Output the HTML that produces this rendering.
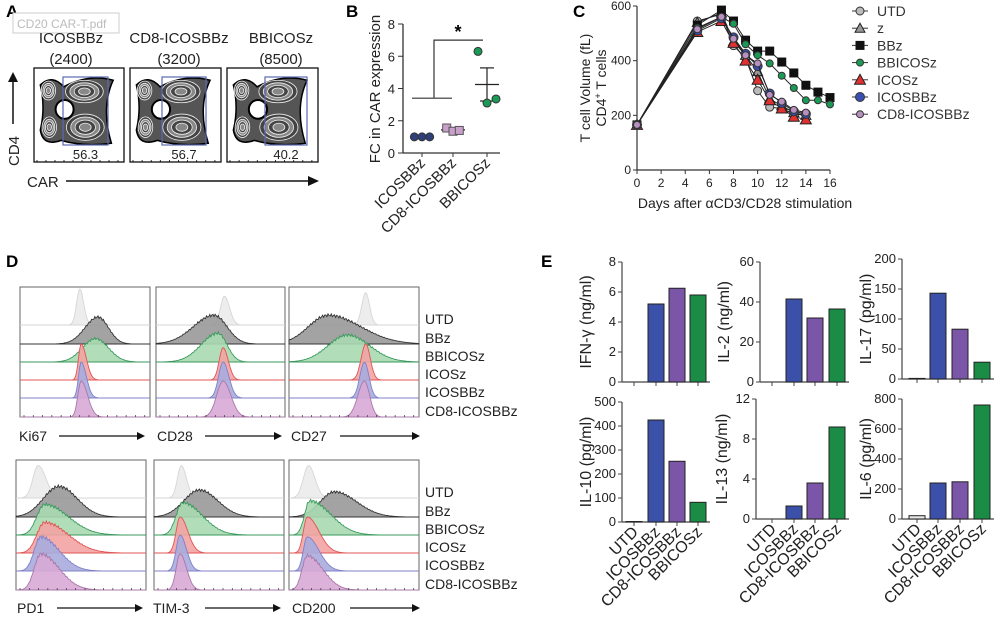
<!DOCTYPE html>
<html><head><meta charset="utf-8">
<style>
html,body{margin:0;padding:0;background:#fff}
svg{display:block;font-family:"Liberation Sans",Arial,sans-serif}
</style></head>
<body>
<svg id="fig" width="1001" height="619" viewBox="0 0 1001 619" xmlns="http://www.w3.org/2000/svg">
<g id="A">
 <text x="6" y="17" font-size="17" font-weight="bold">A</text>
 <rect x="13" y="13" width="106" height="20" fill="#fff" stroke="#ccc"/>
 <text x="17" y="28" font-size="12" fill="#bbb">CD20 CAR-T.pdf</text>
 <text x="71" y="43" font-size="15" text-anchor="middle" fill="#222">ICOSBBz</text>
 <text x="71" y="64" font-size="15" text-anchor="middle" fill="#222">(2400)</text>
 <text x="179" y="43" font-size="15" text-anchor="middle" fill="#222">CD8-ICOSBBz</text>
 <text x="179" y="64" font-size="15" text-anchor="middle" fill="#222">(3200)</text>
 <text x="281" y="43" font-size="15" text-anchor="middle" fill="#222">BBICOSz</text>
 <text x="281" y="64" font-size="15" text-anchor="middle" fill="#222">(8500)</text>
 <text transform="translate(19,166) rotate(-90)" font-size="15" fill="#222">CD4</text>
 <line x1="13" y1="124" x2="13" y2="80" stroke="#111" stroke-width="1.5"/>
 <path d="M8,82 L13,72 L18,82 Z" fill="#111"/>
 <text x="27" y="187" font-size="15" fill="#222">CAR</text>
 <line x1="66" y1="181" x2="310" y2="181" stroke="#111" stroke-width="1.5"/>
 <path d="M308,176 L319,181 L308,186 Z" fill="#111"/>
</g>
<g id="B">
 <text x="346" y="17" font-size="17" font-weight="bold">B</text>
</g>
<g id="C">
 <text x="573" y="17" font-size="17" font-weight="bold">C</text>
</g>
<g id="D">
 <text x="6" y="267" font-size="17" font-weight="bold">D</text>
</g>
<g id="E">
 <text x="541" y="267" font-size="17" font-weight="bold">E</text>
</g>
</svg>
<script>
// ---------- data ----------
// Panel A
const aPercents = ["56.3","56.7","40.2"];
// Panel B
const bCategories = ["ICOSBBz","CD8-ICOSBBz","BBICOSz"];
const bIcosbbz = [1.0,1.0,1.0];
const bCd8 = [1.55,1.35,1.4];
const bBbicosz = [6.3,3.1,3.35];
const bYTicks = [0,2,4,6,8];
// Panel C
const cDaysShort = [0,5,7,8,9,10,11,12,13,14];
const cDaysLong = [0,5,7,8,9,10,11,12,13,14,15,16];
const cUTD = [165,545,570,455,410,290,230,225,205,200];
const cZ = [165,540,575,470,420,360,260,235,210,200];
const cBBz = [165,530,585,545,475,435,435,395,355,310,285,265];
const cBBICOSz = [165,520,560,535,460,420,390,345,300,255,255,240];
const cICOSz = [165,505,545,465,400,330,255,225,195,185];
const cICOSBBz = [165,510,555,485,425,380,280,245,215,205];
const cCD8 = [165,515,560,480,420,390,275,250,220,210];
const cXTicks = [0,2,4,6,8,10,12,14,16];
const cYTicks = [0,200,400,600];
// Panel D (histogram peak centre, left/right spread as fraction of box, relative height)
const dRows = ["UTD","BBz","BBICOSz","ICOSz","ICOSBBz","CD8-ICOSBBz"];
const dKi67 = [[0.46,0.025,0.03,1.0],[0.60,0.10,0.08,0.75],[0.58,0.10,0.10,0.65],[0.47,0.02,0.04,1.0],[0.47,0.02,0.04,1.0],[0.47,0.025,0.05,1.0]];
const dCD28 = [[0.53,0.03,0.04,0.8],[0.45,0.16,0.10,0.8],[0.48,0.13,0.07,0.8],[0.52,0.03,0.04,0.9],[0.52,0.035,0.045,1.0],[0.52,0.05,0.06,1.0]];
const dCD27 = [[0.59,0.03,0.03,0.9],[0.30,0.15,0.25,0.8],[0.45,0.15,0.17,0.75],[0.59,0.035,0.035,1.0],[0.58,0.035,0.035,1.0],[0.58,0.05,0.04,1.0]];
const dPD1 = [[0.17,0.04,0.06,0.9],[0.33,0.12,0.14,0.85],[0.22,0.06,0.18,0.85],[0.22,0.06,0.18,0.85],[0.19,0.05,0.14,0.95],[0.19,0.05,0.14,1.0]];
const dTIM3 = [[0.21,0.03,0.04,0.9],[0.35,0.12,0.14,0.75],[0.22,0.05,0.15,0.9],[0.20,0.03,0.06,1.0],[0.20,0.03,0.05,1.0],[0.20,0.03,0.05,1.0]];
const dCD200 = [[0.15,0.04,0.05,0.9],[0.35,0.11,0.17,0.7],[0.16,0.04,0.16,0.95],[0.14,0.03,0.09,1.0],[0.14,0.03,0.09,0.95],[0.14,0.04,0.12,0.95]];
// Panel E
const eCategories = ["UTD","ICOSBBz","CD8-ICOSBBz","BBICOSz"];
const eIFNg = [0,5.2,6.25,5.8];
const eIL2 = [0,41.5,32,36.5];
const eIL17 = [1,143,83,28];
const eIL10 = [2,425,253,82];
const eIL13 = [0,1.3,3.6,9.2];
const eIL6 = [22,240,248,760];
const eTicksIFNg=[0,2,4,6,8], eTicksIL2=[0,20,40,60], eTicksIL17=[0,50,100,150,200];
const eTicksIL10=[0,100,200,300,400,500], eTicksIL13=[0,4,8,12], eTicksIL6=[0,200,400,600,800];

// ---------- helpers ----------
const NS="http://www.w3.org/2000/svg";
function mk(parent,tag,attrs,text){const e=document.createElementNS(NS,tag);for(const k in attrs)e.setAttribute(k,attrs[k]);if(text!==undefined)e.textContent=text;parent.appendChild(e);return e;}
function lin(d0,d1,r0,r1){return v=>r0+(v-d0)/(d1-d0)*(r1-r0);}

// ---------- Panel A contour plots ----------
const gA=document.getElementById('A');
const aBoxes=[[34,124],[130,221],[227,318]];
const aGates=[[63,108],[162,206],[265,307]];
aBoxes.forEach((b,i)=>{
 const g=mk(gA,'g',{});
 
 
 const w=b[1]-b[0], x0=b[0], y0=68, h=94;
 mk(g,'rect',{x:x0,y:y0,width:w,height:h,fill:'#fff',stroke:'#111','stroke-width':1.3});
 const blobs=[[0.16,0.24,0.08,0.1],[0.17,0.63,0.08,0.11],[0.56,0.25,0.21,0.12],[0.57,0.63,0.21,0.14]];
 mk(g,'path',{d:`M${x0+w*0.07},${y0+h*0.18} Q${x0+w*0.2},${y0+h*0.06} ${x0+w*0.33},${y0+h*0.2} Q${x0+w*0.6},${y0+h*0.06} ${x0+w*0.88},${y0+h*0.13} Q${x0+w*0.74},${y0+h*0.42} ${x0+w*0.86},${y0+h*0.8} Q${x0+w*0.55},${y0+h*0.84} ${x0+w*0.3},${y0+h*0.77} Q${x0+w*0.1},${y0+h*0.84} ${x0+w*0.07},${y0+h*0.66} Q${x0+w*0.13},${y0+h*0.42} ${x0+w*0.07},${y0+h*0.18} Z`,fill:'#555',stroke:'#000','stroke-width':1.5});
 mk(g,'ellipse',{cx:x0+w*0.34,cy:y0+h*0.44,rx:w*0.1,ry:h*0.1,fill:'#fff',stroke:'#000','stroke-width':2});
 blobs.forEach(bl=>{
  for(let k=0;k<4;k++){const s=1-k*0.23;
   mk(g,'ellipse',{cx:x0+w*bl[0],cy:y0+h*bl[1],rx:w*bl[2]*s,ry:h*bl[3]*s,fill:k%2?'#888':'#444',stroke:'#f0f0f0','stroke-width':0.8});}
 });
 for(let t=0;t<10;t++){mk(g,'line',{x1:x0+3+t*w/10,y1:y0+h,x2:x0+3+t*w/10,y2:y0+h-2,stroke:'#000','stroke-width':0.8});}
 const gate=mk(g,'rect',{x:aGates[i][0],y:77,width:aGates[i][1]-aGates[i][0],height:68,fill:'none',stroke:'#5a6ab0','stroke-width':1.2});
 
 
 const t=mk(g,'text',{x:(aGates[i][0]+aGates[i][1])/2,y:159,'font-size':13,'text-anchor':'middle',fill:'#222'},aPercents[i]);
 
 
});

// ---------- Panel B ----------
const gB=document.getElementById('B');
const bY=lin(0,8,153,24);
const bX=[422,453,487];
mk(gB,'line',{x1:403,y1:24,x2:403,y2:153,stroke:'#333','stroke-width':1.3});
mk(gB,'line',{x1:403,y1:153,x2:500,y2:153,stroke:'#333','stroke-width':1.3});
bYTicks.forEach(v=>{
 mk(gB,'line',{x1:398,y1:bY(v),x2:403,y2:bY(v),stroke:'#333'});
 const t=mk(gB,'text',{x:395,y:bY(v)+5,'font-size':13,'text-anchor':'end',fill:'#222'},String(v));
 
 
});
const bt=mk(gB,'text',{transform:'translate(380,89) rotate(-90)','font-size':15,'text-anchor':'middle',fill:'#222'},'FC in CAR expression');


bCategories.forEach((c,i)=>{
 mk(gB,'line',{x1:bX[i],y1:153,x2:bX[i],y2:157,stroke:'#333'});
 const t=mk(gB,'text',{transform:`translate(${bX[i]+4},${164}) rotate(-45)`,'font-size':15,'text-anchor':'end',fill:'#222'},c);
 
 
});
function bGroup(vals,i,color,shape){
 const off=[-9,0,9];
 const mean=vals.reduce((a,b)=>a+b,0)/vals.length;
 const sd=Math.sqrt(vals.reduce((a,b)=>a+(b-mean)*(b-mean),0)/(vals.length-1));
 const sem=sd/Math.sqrt(vals.length);
 mk(gB,'line',{x1:bX[i]-12,y1:bY(mean),x2:bX[i]+12,y2:bY(mean),stroke:'#222','stroke-width':1.2});
 mk(gB,'line',{x1:bX[i],y1:bY(mean-sem),x2:bX[i],y2:bY(mean+sem),stroke:'#222','stroke-width':1.2});
 mk(gB,'line',{x1:bX[i]-7,y1:bY(mean+sem),x2:bX[i]+7,y2:bY(mean+sem),stroke:'#222','stroke-width':1.2});
 mk(gB,'line',{x1:bX[i]-7,y1:bY(mean-sem),x2:bX[i]+7,y2:bY(mean-sem),stroke:'#222','stroke-width':1.2});
 vals.forEach((v,k)=>{
  let e;
  if(shape==='sq') e=mk(gB,'rect',{x:bX[i]+off[k]*0.7-4,y:bY(v)-4,width:8,height:8,fill:color,stroke:'#555'});
  else e=mk(gB,'circle',{cx:bX[i]+off[k]*(shape==='c2'?1:0.85),cy:bY(v),r:4,fill:color,stroke:'#333'});
  
  
 });
}
bGroup(bIcosbbz,0,'#2e3f7a','c');
bGroup(bCd8,1,'#c9a0c9','sq');
bGroup(bBbicosz,2,'#1a9a55','c2');
mk(gB,'path',{d:`M412,${bY(3.4)} L452,${bY(3.4)} M434,${bY(3.4)} L434,${bY(7.0)} L483,${bY(7.0)}`,fill:'none',stroke:'#333','stroke-width':1.2});
const star=mk(gB,'text',{x:458,y:38,'font-size':18,'font-weight':'bold','text-anchor':'middle'},'*');



// ---------- Panel C ----------
const gC=document.getElementById('C');
const cX=lin(0,16,637,830), cY=lin(0,600,170,6);
mk(gC,'line',{x1:637,y1:6,x2:637,y2:170,stroke:'#333','stroke-width':1.2});
mk(gC,'line',{x1:637,y1:170,x2:830,y2:170,stroke:'#333','stroke-width':1.2});
cYTicks.forEach(v=>{mk(gC,'line',{x1:633,y1:cY(v),x2:637,y2:cY(v),stroke:'#333'});
 const t=mk(gC,'text',{x:631,y:cY(v)+4,'font-size':12,'text-anchor':'end',fill:'#222'},String(v));
 });
cXTicks.forEach(v=>{mk(gC,'line',{x1:cX(v),y1:170,x2:cX(v),y2:174,stroke:'#333'});
 const t=mk(gC,'text',{x:cX(v),y:187,'font-size':12,'text-anchor':'middle',fill:'#222'},String(v));
 });
let ct=mk(gC,'text',{x:745,y:208,'font-size':14,'text-anchor':'middle',fill:'#222'},'Days after αCD3/CD28 stimulation');

ct=mk(gC,'text',{transform:'translate(590,88) rotate(-90)','font-size':14,'text-anchor':'middle',fill:'#222'},'T cell Volume (fL)');

ct=mk(gC,'text',{transform:'translate(606,88) rotate(-90)','font-size':14,'text-anchor':'middle',fill:'#222'});

ct.innerHTML='CD4<tspan dy="-5" font-size="9">+</tspan><tspan dy="5"> T cells</tspan>';
const cSeries=[
 ['UTD',cDaysShort,cUTD,'#bbb','c',4],['z',cDaysShort,cZ,'#999','t',4],['BBz',cDaysLong,cBBz,'#111','s',4],
 ['BBICOSz',cDaysLong,cBBICOSz,'#1a9a55','c',3.5],['ICOSz',cDaysShort,cICOSz,'#e03030','t',4.5],
 ['ICOSBBz',cDaysShort,cICOSBBz,'#3a50b0','c',4.5],['CD8-ICOSBBz',cDaysShort,cCD8,'#b890c0','c',3.5]];
function marker(g,x,y,col,shape,r){
 if(shape==='s')return mk(g,'rect',{x:x-r,y:y-r,width:2*r,height:2*r,fill:col,stroke:'#111'});
 if(shape==='t')return mk(g,'path',{d:`M${x},${y-r-1} L${x+r+1},${y+r} L${x-r-1},${y+r} Z`,fill:col,stroke:'#222'});
 return mk(g,'circle',{cx:x,cy:y,r:r,fill:col,stroke:'#333'});
}
cSeries.forEach((s,si)=>{
 const g=mk(gC,'g',{});
 
 
 mk(g,'polyline',{points:s[1].map((d,k)=>cX(d)+','+cY(s[2][k])).join(' '),fill:'none',stroke:'#222','stroke-width':1});
 s[1].forEach((d,k)=>{const m=marker(g,cX(d),cY(s[2][k]),s[3],s[4],s[5]);
  });
 const ly=11+si*17.2;
 const lg=mk(gC,'g',{});
 
 
 mk(lg,'line',{x1:852,y1:ly,x2:868,y2:ly,stroke:'#333'});
 marker(lg,860,ly,s[3],s[4],s[5]);
 mk(lg,'text',{x:877,y:ly+5,'font-size':14,fill:'#333'},s[0]);
});

// ---------- Panel D ----------
const gD=document.getElementById('D');
const dFill=['#ebebeb','#999','#a9d9b0','#f3a3a3','#a8acde','#d8a8d6'];
const dStroke=['#d6d6d6','#333','#3a9a5e','#e05555','#8080c8','#a878a8'];
function histPanel(x0,x1,bases,data,name,lab,labX,arrowX0,arrowX1,labY){
 const g=mk(gD,'g',{});
 
 
 const w=x1-x0, top=bases[0]-38, bot=bases[5];
 mk(g,'rect',{x:x0,y:top,width:w,height:bot-top,fill:'#fff',stroke:'#666','stroke-width':1});
 data.forEach((p,r)=>{
  const base=bases[r], amp=36*p[3];
  let pts=[];
  for(let k=0;k<=120;k++){const f=k/120;const sg=f<p[0]?p[1]:p[2];
   const v=Math.exp(-0.5*Math.pow((f-p[0])/sg,2));
   const jag=(p[1]+p[2]>0.15)?(1+0.05*Math.sin(k*2.3)):1;
   pts.push((x0+f*w).toFixed(1)+','+(base-amp*v*jag).toFixed(1));}
  if(r<5) mk(g,'line',{x1:x0,y1:base,x2:x1,y2:base,stroke:dStroke[r],'stroke-width':0.8});
  const h=mk(g,'path',{d:'M'+x0+','+base+' L'+pts.join(' L')+' L'+x1+','+base+' Z',fill:dFill[r],stroke:dStroke[r],'stroke-width':0.9,'fill-opacity':0.9});
  
  
 });
 for(let t=0;t<14;t++)mk(g,'line',{x1:x0+4+t*w/14,y1:bot,x2:x0+4+t*w/14,y2:bot-2,stroke:'#333','stroke-width':0.7});
 const t=mk(gD,'text',{x:labX,y:labY,'font-size':14,fill:'#222'},lab);
 
 mk(gD,'line',{x1:arrowX0,y1:labY-5,x2:arrowX1-6,y2:labY-5,stroke:'#111','stroke-width':1.2});
 mk(gD,'path',{d:`M${arrowX1-8},${labY-9} L${arrowX1},${labY-5} L${arrowX1-8},${labY-1} Z`,fill:'#111'});
}
const topBases=[325,344,362,380,398,417], botBases=[498,517,535,553,571,590];
histPanel(20,150,topBases,dKi67,'ki67','Ki67',19,59,145,441);
histPanel(156,285,topBases,dCD28,'cd28','CD28',157,205,282,441);
histPanel(289,419,topBases,dCD27,'cd27','CD27',291,340,420,441);
histPanel(16,146,botBases,dPD1,'pd1','PD1',17,57,143,613);
histPanel(154,284,botBases,dTIM3,'tim3','TIM-3',153,205,281,613);
histPanel(289,419,botBases,dCD200,'cd200','CD200',292,350,420,613);
[[topBases,0],[botBases,1]].forEach(([bs,j])=>{
 dRows.forEach((r,i)=>{const t=mk(gD,'text',{x:425,y:bs[i]-1,'font-size':14,fill:'#222'},r);
  });
});

// ---------- Panel E ----------
const gE=document.getElementById('E');
const eColors=['#e6e6e6','#3b50a8','#7b55a8','#1a8c45'];
function barChart(axX,catX,y0,yTop,vals,ticks,title,titleX,name,showLabels){
 const g=mk(gE,'g',{});
 
 
 const ys=lin(0,ticks[ticks.length-1],y0,yTop);
 mk(g,'line',{x1:axX,y1:yTop,x2:axX,y2:y0,stroke:'#444','stroke-width':1.2});
 mk(g,'line',{x1:axX,y1:y0,x2:catX[3]+12,y2:y0,stroke:'#444','stroke-width':1.2});
 ticks.forEach(v=>{mk(g,'line',{x1:axX-4,y1:ys(v),x2:axX,y2:ys(v),stroke:'#444'});
  const t=mk(g,'text',{x:axX-6,y:ys(v)+4,'font-size':13,'text-anchor':'end',fill:'#222'},String(v));
  });
 vals.forEach((v,i)=>{
  mk(g,'line',{x1:catX[i],y1:y0,x2:catX[i],y2:y0+4,stroke:'#444'});
  const b=mk(g,'rect',{x:catX[i]-8,y:ys(v),width:16,height:y0-ys(v),fill:eColors[i],stroke:'#222','stroke-width':1});
  
  
  if(showLabels){const t=mk(g,'text',{transform:`translate(${catX[i]+5},${y0+11}) rotate(-45)`,'font-size':16,'text-anchor':'end',fill:'#222'},eCategories[i]);
   }
 });
 const t=mk(g,'text',{transform:`translate(${titleX},${(y0+yTop)/2}) rotate(-90)`,'font-size':16,'text-anchor':'middle',fill:'#222'},title);
 
}
const eX1=[634,656,677,698], eX2=[772,794,815,837], eX3=[917,938,960,982];
barChart(622,eX1,382,262,eIFNg,eTicksIFNg,'IFN-γ (ng/ml)',591,'ifng',false);
barChart(760,eX2,382,262,eIL2,eTicksIL2,'IL-2 (ng/ml)',729,'il2',false);
barChart(902,eX3,379,259,eIL17,eTicksIL17,'IL-17 (pg/ml)',871,'il17',false);
barChart(622,eX1,522,402,eIL10,eTicksIL10,'IL-10 (pg/ml)',591,'il10',true);
barChart(756,eX2,519,399,eIL13,eTicksIL13,'IL-13 (ng/ml)',727,'il13',true);
barChart(902,eX3,519,399,eIL6,eTicksIL6,'IL-6 (pg/ml)',871,'il6',true);
</script>
</body></html>
